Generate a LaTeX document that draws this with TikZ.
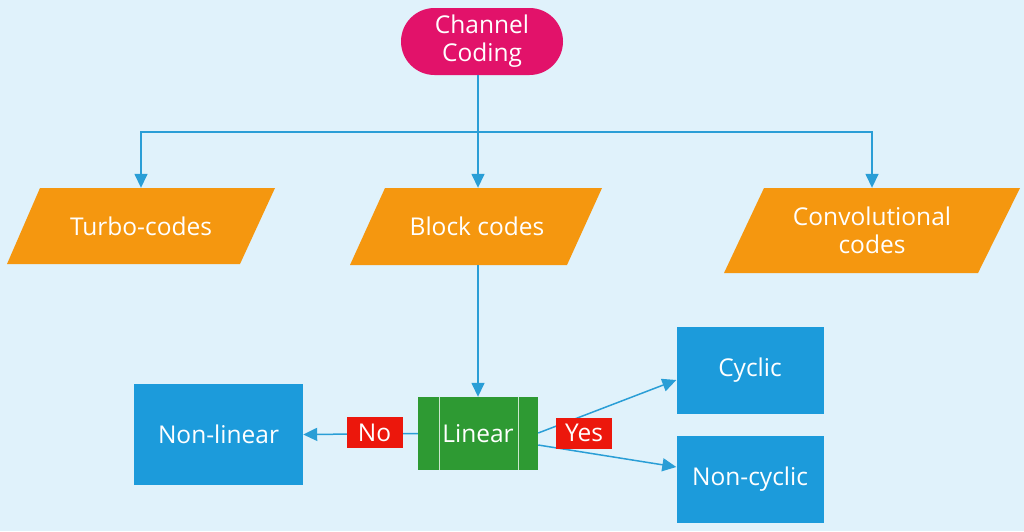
\documentclass[tikz,border=0pt]{standalone}
\usepackage{fontspec}
\setmainfont{Open Sans}
\usetikzlibrary{arrows.meta,calc}
\definecolor{bg}{HTML}{E0F2FB}
\definecolor{pinkc}{HTML}{E2126A}
\definecolor{orangec}{HTML}{F5970F}
\definecolor{bluec}{HTML}{1C9BDB}
\definecolor{greenc}{HTML}{2E9A33}
\definecolor{redc}{HTML}{EC170C}
\definecolor{linec}{HTML}{2A9ED6}
\tikzset{
  txt/.style={text=white,font=\fontsize{24.5}{30}\selectfont,align=center,inner sep=0pt},
  pill/.style={txt,fill=pinkc,rounded corners=33.5pt,minimum width=162pt,minimum height=67pt},
  para/.style={txt,minimum height=#1},
  bluebox/.style={txt,fill=bluec,minimum width=147pt,minimum height=87pt},
  tag/.style={txt,fill=redc,minimum width=56pt,minimum height=31pt},
  conn/.style={draw=linec,line width=1.5pt,-{Triangle[length=14pt,width=13pt]}},
  plain/.style={draw=linec,line width=1.5pt}
}
\begin{document}
\begin{tikzpicture}[x=1pt,y=-1pt]
\fill[bg] (0,0) rectangle (1024,531);
\useasboundingbox (0,0) rectangle (1024,531);
% parallelogram backgrounds
\fill[orangec] (40,188) -- (275,188) -- (240,264) -- (7,264) -- cycle;
\fill[orangec] (385,188) -- (602,188) -- (567,265) -- (350,265) -- cycle;
\fill[orangec] (764,188) -- (1020,188) -- (978,273) -- (724,273) -- cycle;
% nodes
\node[pill] (cc) at (482,41.5) {Channel\\[-2pt]Coding};
\node[para=76pt,minimum width=234pt] (turbo) at (141,226) {Turbo-codes};
\node[para=77pt,minimum width=217pt] (block) at (477,226.5) {Block codes};
\node[para=85pt,minimum width=254pt] (conv) at (872,230.5) {Convolutional\\[-2pt]codes};
\node[txt,fill=greenc,minimum width=120pt,minimum height=73pt] (lin) at (478,433.5) {Linear};
\draw[white!75!greenc,line width=1pt] ($(lin.north west)+(22,0)$) -- ($(lin.south west)+(22,0)$);
\draw[white!75!greenc,line width=1pt] ($(lin.north east)+(-20,0)$) -- ($(lin.south east)+(-20,0)$);
\node[bluebox,minimum width=169pt,minimum height=101pt] (nonlin) at (218.5,434.5) {Non-linear};
\node[bluebox] (cyc) at (750,370.5) {Cyclic};
\node[bluebox] (ncyc) at (750,479.5) {Non-cyclic};
% connectors
\coordinate (bus) at (478,132);
\draw[plain] (cc.south -| bus) -- (bus);
\draw[conn] (bus) -| (turbo.north);
\draw[conn] (bus) -| (conv.north);
\draw[conn] (bus) -- (block.north -| bus);
\draw[conn] (block.south -| bus) -- (lin.north);
\draw[conn] (lin.west) -- (nonlin.east);
\coordinate (ya) at ($(lin.east)+(0,-0.5)$);
\coordinate (yb) at ($(lin.east)+(0,11.5)$);
\draw[conn] (ya) -- ($(cyc.west)+(0,9.5)$);
\draw[conn] (yb) -- ($(ncyc.west)+(0,-12.5)$);
\node[tag] (no) at (374.5,432.5) {No};
\node[tag] (yes) at (584,433) {Yes};
\end{tikzpicture}
\end{document}
